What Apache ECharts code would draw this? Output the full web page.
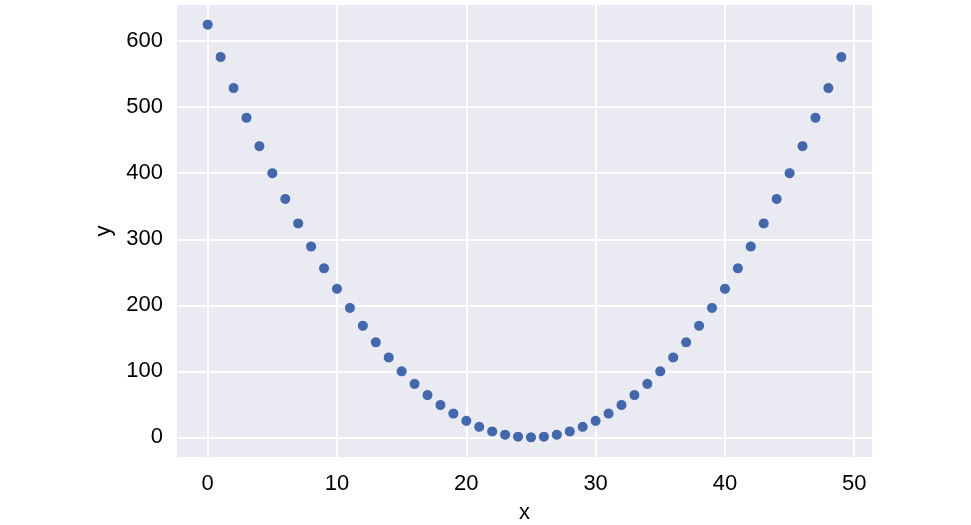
<!DOCTYPE html>
<html><head><meta charset="utf-8">
<script src="https://cdn.jsdelivr.net/npm/echarts@6/dist/echarts.min.js"></script>
<style>html,body{margin:0;padding:0;background:#fff}#c{width:971px;height:525px}</style>
</head><body><div id="c"></div>
<script>
const xValues = [0,1,2,3,4,5,6,7,8,9,10,11,12,13,14,15,16,17,18,19,20,21,22,23,24,25,26,27,28,29,30,31,32,33,34,35,36,37,38,39,40,41,42,43,44,45,46,47,48,49];
const yValues = [625,576,529,484,441,400,361,324,289,256,225,196,169,144,121,100,81,64,49,36,25,16,9,4,1,0,1,4,9,16,25,36,49,64,81,100,121,144,169,196,225,256,289,324,361,400,441,484,529,576];
const xTicks = [0,10,20,30,40,50];
const yTicks = [0,100,200,300,400,500,600];
const data = xValues.map((x,i)=>[x,yValues[i]]);
const chart = echarts.init(document.getElementById('c'));
const font = 'Liberation Sans, Arial, sans-serif';
chart.setOption({
  animation:false,
  grid:{left:176,top:4,width:697,height:454,show:true,backgroundColor:'#eaeaf2',borderWidth:0,
    containLabel:false,outerBoundsMode:'none'},
  xAxis:{type:'value',min:-2.45,max:51.45,name:'x',nameLocation:'middle',nameGap:44,
    nameTextStyle:{fontSize:22,color:'#000',fontFamily:font},
    axisLine:{show:false},axisTick:{show:false},
    axisLabel:{fontSize:22,color:'#000',fontFamily:font,margin:15,customValues:xTicks},
    splitLine:{show:true,lineStyle:{color:'#fff',width:2}},
    customValues:xTicks},
  yAxis:{type:'value',min:-31.25,max:656.25,name:'y',nameLocation:'middle',nameGap:58,nameRotate:90,
    nameTextStyle:{fontSize:22,color:'#000',fontFamily:font},
    axisLine:{show:false},axisTick:{show:false},
    axisLabel:{fontSize:22,color:'#000',fontFamily:font,margin:13,customValues:yTicks},
    splitLine:{show:true,lineStyle:{color:'#fff',width:2}},
    customValues:yTicks},
  series:[{type:'scatter',data:data,symbolSize:11,
    itemStyle:{color:'#4468ad',borderColor:'#fff',borderWidth:0.8,opacity:1}}]
});
</script></body></html>
